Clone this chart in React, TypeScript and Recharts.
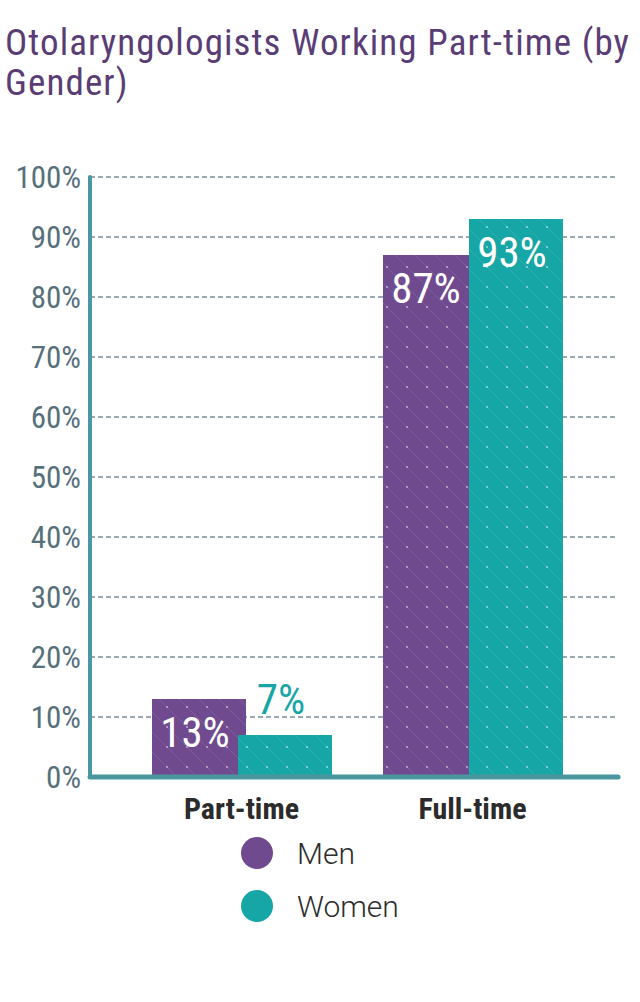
import React from 'react';
import { BarChart, Bar, XAxis, YAxis, CartesianGrid, LabelList } from 'recharts';

const categories = ['Part-time', 'Full-time'];
const menValues = [13, 87];
const womenValues = [7, 93];
const yTicks = [0, 10, 20, 30, 40, 50, 60, 70, 80, 90, 100];
const seriesNames = ['Men', 'Women'];
const title = ['Otolaryngologists Working Part-time (by', 'Gender)'];

const data = categories.map((c, i) => ({ name: c, men: menValues[i], women: womenValues[i] }));

const PURPLE = '#6f4a8e';
const TEAL = '#17a6a6';
const AXIS = '#4a97a0';
const COND = '"Roboto Condensed", "Liberation Sans Narrow", "DejaVu Sans Condensed", Roboto, sans-serif';

const condStyle: React.CSSProperties = { fontFamily: COND, fontStretch: 'condensed' };

const YTick = (props: any) => {
  const { x, y, payload } = props;
  return (
    <text x={x} y={y} textAnchor="end" dominantBaseline="central" fontSize={31} fill="#56707c" style={condStyle}>
      {`${payload.value}%`}
    </text>
  );
};

const XTick = (props: any) => {
  const { x, y, payload } = props;
  return (
    <text x={x} y={y + 42} textAnchor="middle" fontSize={30} fontWeight={700} fill="#2b2b2b" style={condStyle}>
      {payload.value}
    </text>
  );
};

const makeLabel = (series: 'men' | 'women') => (props: any) => {
  const { x, y, width, value } = props;
  const outside = value < 10;
  return (
    <text
      x={x + width / 2 - 4}
      y={outside ? y - 21 : y + 48}
      textAnchor="middle"
      fontSize={43}
      fill={outside ? TEAL : '#ffffff'}
      style={condStyle}
    >
      {`${value}%`}
    </text>
  );
};

const colors = [PURPLE, TEAL];

export default function App() {
  return (
    <div style={{ position: 'absolute', left: 0, top: 0, width: 640, height: 1002, background: '#fff' }}>
      <svg width={0} height={0} style={{ position: 'absolute' }}>
        <defs>
          {colors.map((c, i) => (
            <pattern key={i} id={`pat${i}`} width={20} height={20} patternUnits="userSpaceOnUse">
              <rect width={20} height={20} fill={c} />
              <line x1={-1} y1={-1} x2={21} y2={21} stroke="#ffffff" strokeOpacity={0.1} strokeWidth={1} />
              <rect x={6} y={6} width={2} height={2} fill="#ffffff" fillOpacity={0.4} />
            </pattern>
          ))}
        </defs>
      </svg>
      <div
        style={{
          position: 'absolute',
          left: 5,
          top: 23,
          fontSize: 37,
          lineHeight: '40px',
          letterSpacing: 1.1,
          color: '#5a3d75',
          whiteSpace: 'nowrap',
          ...condStyle,
        }}
      >
        {title.map((t, i) => (
          <div key={i}>{t}</div>
        ))}
      </div>
      <BarChart
        width={640}
        height={1002}
        data={data}
        margin={{ top: 177, right: 22, bottom: 185, left: 0 }}
        barSize={94}
        barGap={-8}
      >
        <CartesianGrid vertical={false} stroke="#7a8d97" strokeDasharray="5 3" strokeWidth={1.5} />
        <YAxis
          domain={[0, 100]}
          ticks={yTicks}
          width={90}
          tickSize={0}
          tickMargin={9}
          tick={<YTick />}
          axisLine={{ stroke: AXIS, strokeWidth: 4, strokeLinecap: 'round' }}
          tickLine={false}
          interval={0}
        />
        <XAxis
          dataKey="name"
          height={40}
          padding={{ left: 36, right: 30 }}
          tickSize={0}
          tickMargin={0}
          tick={<XTick />}
          axisLine={{ stroke: AXIS, strokeWidth: 5, strokeLinecap: 'round' }}
          tickLine={false}
        />
        <Bar dataKey="men" name={seriesNames[0]} fill="url(#pat0)" isAnimationActive={false}>
          <LabelList dataKey="men" content={makeLabel('men')} />
        </Bar>
        <Bar dataKey="women" name={seriesNames[1]} fill="url(#pat1)" isAnimationActive={false}>
          <LabelList dataKey="women" content={makeLabel('women')} />
        </Bar>
      </BarChart>
      {seriesNames.map((n, i) => (
        <div key={n} style={{ position: 'absolute', left: 241, top: 837 + i * 53, height: 32, display: 'flex', alignItems: 'center' }}>
          <div style={{ width: 32, height: 32, borderRadius: 16, background: colors[i] }} />
          <div style={{ marginLeft: 24, fontSize: 30, color: '#2d2d2d', fontFamily: 'Roboto, sans-serif', fontWeight: 300 }}>{n}</div>
        </div>
      ))}
    </div>
  );
}
